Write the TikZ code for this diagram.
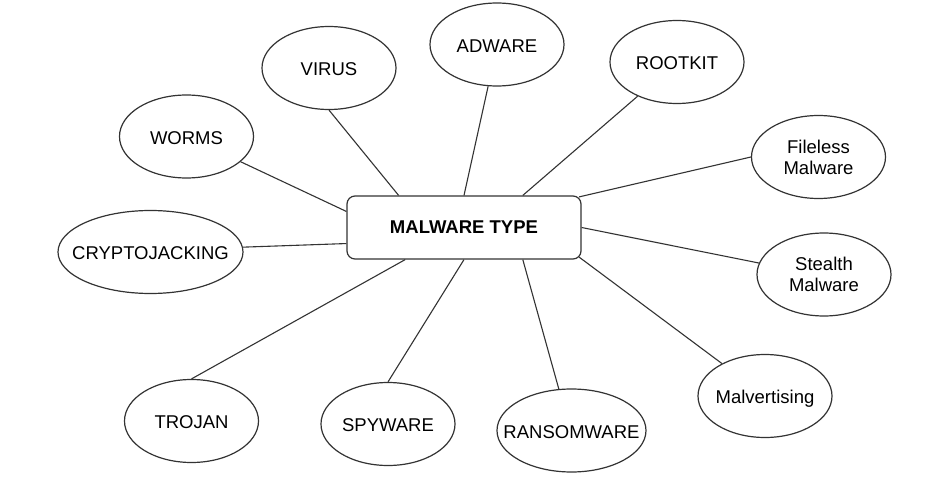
\documentclass[tikz,border=0pt]{standalone}
\usepackage{fontspec}
\setmainfont{Liberation Sans}
\usetikzlibrary{shapes.geometric,calc}
\definecolor{edgegray}{HTML}{333333}
\newcommand\lbl[2][1.2pt]{\makebox[0pt]{\raisebox{-#1}[\height][\depth]{#2}}}
\newcommand\twolbl[2]{\makebox[0pt]{\raisebox{-2.5pt}[\height][\depth]{\begin{tabular}{@{}c@{}}#1\\#2\end{tabular}}}}
\tikzset{
  bubble/.style={ellipse, draw=edgegray, line width=1.2pt, fill=white,
    minimum width=134pt, minimum height=83pt, inner sep=0pt,
    font=\fontsize{18.5}{21}\selectfont},
  hub/.style={rectangle, rounded corners=8pt, draw=edgegray, line width=1.2pt, fill=white,
    minimum width=234pt, minimum height=63pt, inner sep=0pt,
    font=\fontsize{18.5}{21}\selectfont\bfseries},
  link/.style={draw=edgegray, line width=1.1pt}
}
\begin{document}
\begin{tikzpicture}[x=1pt,y=-1pt]
\useasboundingbox[fill=white] (0,0) rectangle (938,503);
% hub
\node[hub] (box) at (464,227.5) {MALWARE TYPE};
% bubbles
\node[bubble] (worms)   at (186.5,136.5) {\lbl{WORMS}};
\node[bubble] (virus)   at (329,68)      {\lbl{VIRUS}};
\node[bubble] (adware)  at (497,44.5)    {\lbl{ADWARE}};
\node[bubble] (rootkit) at (677,62)      {\lbl{ROOTKIT}};
\node[bubble] (fileless) at (818.5,157)  {\twolbl{Fileless}{Malware}};
\node[bubble] (stealth) at (824,274.5)   {\twolbl{Stealth}{Malware}};
\node[bubble] (malv)    at (765,396)     {\lbl[3pt]{Malvertising}};
\node[bubble, minimum width=149pt] (ransom) at (571.5,430.5) {\lbl{RANSOMWARE}};
\node[bubble] (spy)     at (388,424)     {\lbl{SPYWARE}};
\node[bubble] (trojan)  at (191.5,421)   {\lbl{TROJAN}};
\node[bubble, minimum width=185pt] (crypto) at (150.5,252) {\lbl{CRYPTOJACKING}};
% connectors
\draw[link] (worms.-25)   -- ($(box.north west)!0.25!(box.south west)$);
\draw[link] (virus.south) -- ($(box.north west)!0.222!(box.north east)$);
\draw[link] (adware.-102) -- ($(box.north west)!0.5!(box.north east)$);
\draw[link] (rootkit.-139) -- ($(box.north west)!0.75!(box.north east)$);
\draw[link] (fileless.west) -- ($(box.north east)+(-2.5,1.5)$);
\draw[link] (stealth.170) -- (box.east);
\draw[link] (malv.143) -- ($(box.south east)+(-2.5,-2.5)$);
\draw[link] (ransom.107) -- ($(box.south west)!0.75!(box.south east)$);
\draw[link] (spy.north) -- ($(box.south west)!0.5!(box.south east)$);
\draw[link] (trojan.north) -- ($(box.south west)!0.25!(box.south east)$);
\draw[link] (crypto.3) -- ($(box.north west)!0.75!(box.south west)$);
\end{tikzpicture}
\end{document}
